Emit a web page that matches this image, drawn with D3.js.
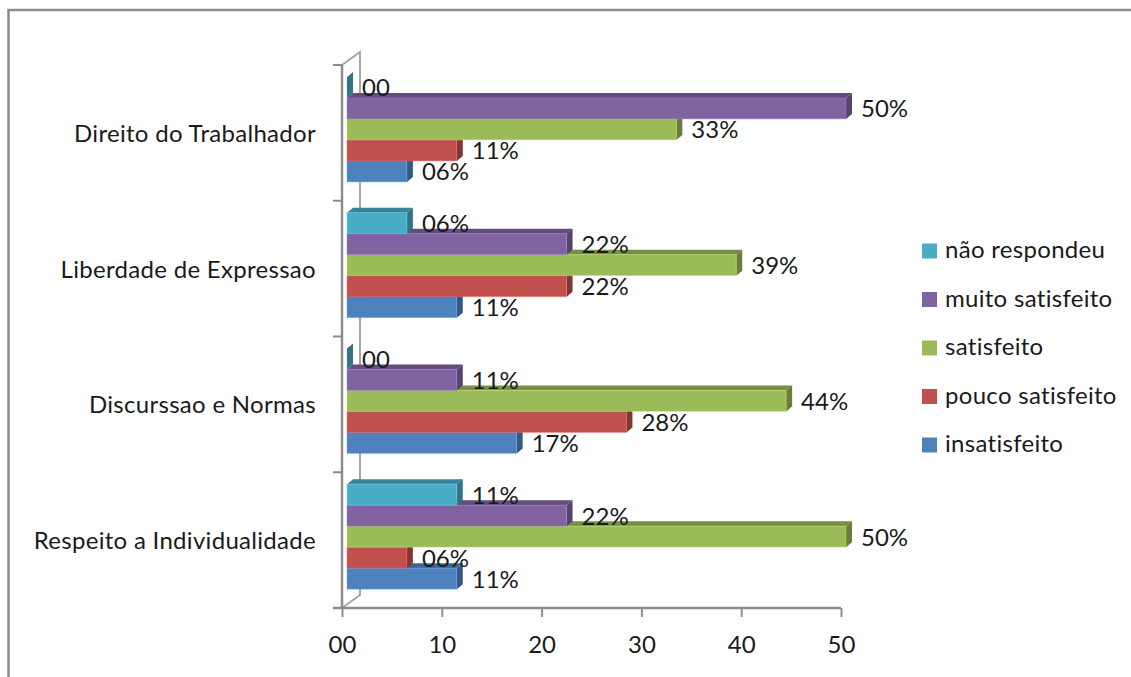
<!DOCTYPE html>
<html>
<head>
<meta charset="utf-8">
<script src="https://cdnjs.cloudflare.com/ajax/libs/d3/7.8.5/d3.min.js"></script>
<style>
    html, body { margin: 0; padding: 0; background: #fff; }
    svg { display: block; }
    text { font-family: Lato, "Open Sans", sans-serif; fill: #1a1a1a; }
</style>
</head>
<body>
<svg id="chart" width="1131" height="677"></svg>
<script>
const categories = ['Direito do Trabalhador', 'Liberdade de Expressao', 'Discurssao e Normas', 'Respeito a Individualidade'];
const seriesNames = ['insatisfeito', 'pouco satisfeito', 'satisfeito', 'muito satisfeito', 'não respondeu'];
const seriesColors = ['#4f81bd', '#c0504d', '#9bbb59', '#8064a2', '#4bacc6'];

// one array per series, same order as categories
const insatisfeito = [6, 11, 17, 11];
const poucoSatisfeito = [11, 22, 28, 6];
const satisfeito = [33, 39, 44, 50];
const muitoSatisfeito = [50, 22, 11, 22];
const naoRespondeu = [0, 6, 0, 11];
const seriesValues = [insatisfeito, poucoSatisfeito, satisfeito, muitoSatisfeito, naoRespondeu];

const xTicks = [0, 10, 20, 30, 40, 50];

const svg = d3.select('#chart');
const pad2 = d3.format('02d');

// outer frame, only the left and top edges fall inside the page
svg.append('path')
    .attr('d', 'M8.5,677V10H1131')
    .attr('fill', 'none')
    .attr('stroke', '#8c8c8c')
    .attr('stroke-width', 2.5);

const depthX = 6, depthY = 5;
const wallX = 18, wallY = 13;
const barInset = 5;

const x = d3.scaleLinear().domain([0, 50]).range([342, 841]);
const y = d3.scaleBand().domain(categories).range([65, 608]);
const barHeight = 21;
const axisColor = '#8c8c8c';

// back wall and floor edges
svg.append('path')
    .attr('d', `M${x(0)},${y.range()[0]}l${wallX},${-wallY}V${y.range()[1] - wallY}L${x(0)},${y.range()[1]}`)
    .attr('fill', 'none')
    .attr('stroke', '#a6a6a6')
    .attr('stroke-width', 2);

// bars, bottom series first so each one covers the top face of the one below
const rows = seriesNames.flatMap((name, s) => categories.map((cat, c) => ({
    cat, s, value: seriesValues[s][c], color: seriesColors[s]
})));

const groupTop = cat => y(cat) + y.bandwidth() / 2 - 3.5 - 2.5 * barHeight;
const barTop = d => groupTop(d.cat) + (4 - d.s) * barHeight;
const x0 = x(0) + barInset;
const barEnd = d => x(d.value) + barInset;

const bars = svg.append('g').selectAll('g').data(rows).join('g');

bars.append('path') // top face
    .attr('d', d => `M${x0},${barTop(d)}l${depthX},${-depthY}H${barEnd(d) + depthX}L${barEnd(d)},${barTop(d)}Z`)
    .attr('fill', d => d3.color(d.color).darker(0.75));
bars.append('path') // end face
    .attr('d', d => `M${barEnd(d)},${barTop(d)}l${depthX},${-depthY}v${barHeight}l${-depthX},${depthY}Z`)
    .attr('fill', d => d3.color(d.color).darker(1.1));
bars.append('rect') // front face
    .attr('x', x0)
    .attr('y', barTop)
    .attr('width', d => barEnd(d) - x0)
    .attr('height', barHeight)
    .attr('fill', d => d.color)
    .attr('stroke', d => d3.color(d.color).brighter(0.7))
    .attr('stroke-opacity', 0.45)
    .attr('stroke-width', 1);

// axes
const xAxis = svg.append('g')
    .attr('transform', `translate(0,${y.range()[1]})`)
    .call(d3.axisBottom(x).tickValues(xTicks).tickSize(9).tickFormat(pad2));
xAxis.select('.domain').remove();
xAxis.selectAll('line').attr('stroke', axisColor).attr('stroke-width', 2);
xAxis.selectAll('text').attr('font-size', 24).attr('dy', 0).attr('y', 45);

svg.append('line')
    .attr('x1', 333).attr('x2', x(50))
    .attr('y1', y.range()[1]).attr('y2', y.range()[1])
    .attr('stroke', axisColor).attr('stroke-width', 2.5);
svg.append('line')
    .attr('x1', x(0)).attr('x2', x(0))
    .attr('y1', y.range()[0]).attr('y2', y.range()[1])
    .attr('stroke', axisColor).attr('stroke-width', 2.5);

svg.append('g').selectAll('line')
    .data([0, 1, 2, 3])
    .join('line')
    .attr('x1', 333).attr('x2', x(0))
    .attr('y1', i => y.range()[0] + i * y.step())
    .attr('y2', i => y.range()[0] + i * y.step())
    .attr('stroke', axisColor).attr('stroke-width', 2);

// category names
svg.append('g').selectAll('text')
    .data(categories)
    .join('text')
    .attr('x', 316)
    .attr('y', d => y(d) + y.bandwidth() / 2 + 3)
    .attr('text-anchor', 'end')
    .attr('dominant-baseline', 'middle')
    .attr('font-size', 24)
    .attr('letter-spacing', 0.3)
    .text(d => d);

// value labels sit above every bar
svg.append('g').selectAll('text')
    .data(rows)
    .join('text')
    .attr('x', d => barEnd(d) + 15)
    .attr('y', d => barTop(d) + barHeight / 2 + 3)
    .attr('dominant-baseline', 'middle')
    .attr('font-size', 24)
    .text(d => d.value === 0 ? '00' : pad2(d.value) + '%');

// legend, reversed so the last series is on top
const legendY = d3.scalePoint().domain(seriesNames.slice().reverse()).range([251, 445]);
const legend = svg.append('g').selectAll('g')
    .data(seriesNames)
    .join('g')
    .attr('transform', d => `translate(922,${legendY(d)})`);
legend.append('rect')
    .attr('x', 0).attr('y', -7.5)
    .attr('width', 15).attr('height', 15)
    .attr('fill', (d, i) => seriesColors[i]);
legend.append('text')
    .attr('x', 23)
    .attr('y', 1)
    .attr('dominant-baseline', 'middle')
    .attr('font-size', 24)
    .attr('letter-spacing', 0.3)
    .text(d => d);
</script>
</body>
</html>
